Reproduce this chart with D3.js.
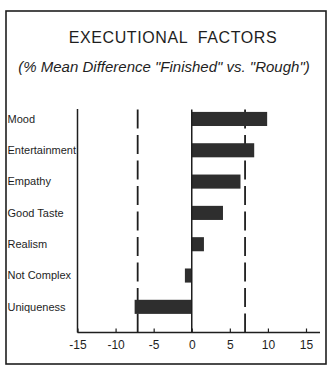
<!DOCTYPE html>
<html>
<head>
<meta charset="utf-8">
<script src="https://cdn.jsdelivr.net/npm/d3@7"></script>
<style>
  html, body { margin: 0; padding: 0; background: #fff; }
  svg { display: block; font-family: "Liberation Sans", Arial, Helvetica, sans-serif; }
</style>
</head>
<body>
<svg id="chart" width="335" height="369"></svg>
<script>
const categories = ["Mood", "Entertainment", "Empathy", "Good Taste", "Realism", "Not Complex", "Uniqueness"];
const values = [9.9, 8.2, 6.4, 4.1, 1.6, -0.9, -7.5];
const thresholds = [-7.1, 7.0];
const tickValues = [-15, -10, -5, 0, 5, 10, 15];
const title = "EXECUTIONAL  FACTORS";
const subtitle = "(% Mean Difference \"Finished\" vs. \"Rough\")";

const svg = d3.select("#chart");
const ink = "#1e1e1e";

// frame
svg.append("rect")
  .attr("x", 6).attr("y", 11).attr("width", 320).attr("height", 353)
  .attr("fill", "#fff").attr("stroke", ink).attr("stroke-width", 1.6);

// titles
svg.append("text")
  .attr("x", 173).attr("y", 43.3)
  .attr("text-anchor", "middle")
  .attr("font-size", 16)
  .attr("letter-spacing", 0.6)
  .style("white-space", "pre")
  .attr("fill", ink)
  .text(title);

svg.append("text")
  .attr("x", 164).attr("y", 72)
  .attr("text-anchor", "middle")
  .attr("font-size", 15)
  .attr("font-style", "italic")
  .attr("fill", ink)
  .text(subtitle);

const x = d3.scaleLinear().domain([-15, 15]).range([77.5, 306]);
const y = d3.scaleBand().domain(categories).range([103.3, 322.5])
  .paddingInner(0.55).paddingOuter(0.275);

const axisY = 332.5;
const plotTop = 109.5;

// category labels
svg.append("g").selectAll("text").data(categories).join("text")
  .attr("x", 7.5)
  .attr("y", d => y(d) + y.bandwidth() / 2)
  .attr("dy", "0.34em")
  .attr("font-size", 11)
  .attr("fill", ink)
  .text(d => d);

// threshold dashed lines
svg.append("g").selectAll("line").data(thresholds).join("line")
  .attr("x1", d => x(d)).attr("x2", d => x(d))
  .attr("y1", plotTop).attr("y2", axisY)
  .attr("stroke", ink).attr("stroke-width", 1.8)
  .attr("stroke-dasharray", "19 6.5");

// bars
svg.append("g").selectAll("rect").data(values).join("rect")
  .attr("x", d => x(Math.min(0, d)))
  .attr("y", (d, i) => y(categories[i]))
  .attr("width", d => Math.abs(x(d) - x(0)))
  .attr("height", y.bandwidth())
  .attr("fill", "#2e2e2e");

// zero line
svg.append("line")
  .attr("x1", x(0)).attr("x2", x(0))
  .attr("y1", plotTop).attr("y2", axisY)
  .attr("stroke", ink).attr("stroke-width", 1.5);

// left axis line
svg.append("line")
  .attr("x1", x(-15)).attr("x2", x(-15))
  .attr("y1", plotTop - 0.5).attr("y2", axisY)
  .attr("stroke", ink).attr("stroke-width", 1.5);

// bottom axis
const xAxis = d3.axisBottom(x).tickValues(tickValues).tickSizeInner(-4).tickSizeOuter(0)
  .tickFormat(d3.format("d"));
const gx = svg.append("g").attr("transform", `translate(0,${axisY})`).call(xAxis);
gx.select(".domain").remove();
gx.append("line")
  .attr("x1", x(-15)).attr("x2", 320).attr("y1", 0).attr("y2", 0)
  .attr("stroke", ink).attr("stroke-width", 1.5);
gx.selectAll(".tick line").attr("stroke", ink).attr("stroke-width", 1.2);
gx.selectAll(".tick text")
  .attr("y", 8)
  .attr("dy", "0.71em")
  .attr("font-size", 12)
  .attr("font-family", "\"Liberation Sans\", Arial, sans-serif")
  .attr("fill", ink)
  .text(d => d < 0 ? "-" + Math.abs(d) : String(d));
</script>
</body>
</html>
